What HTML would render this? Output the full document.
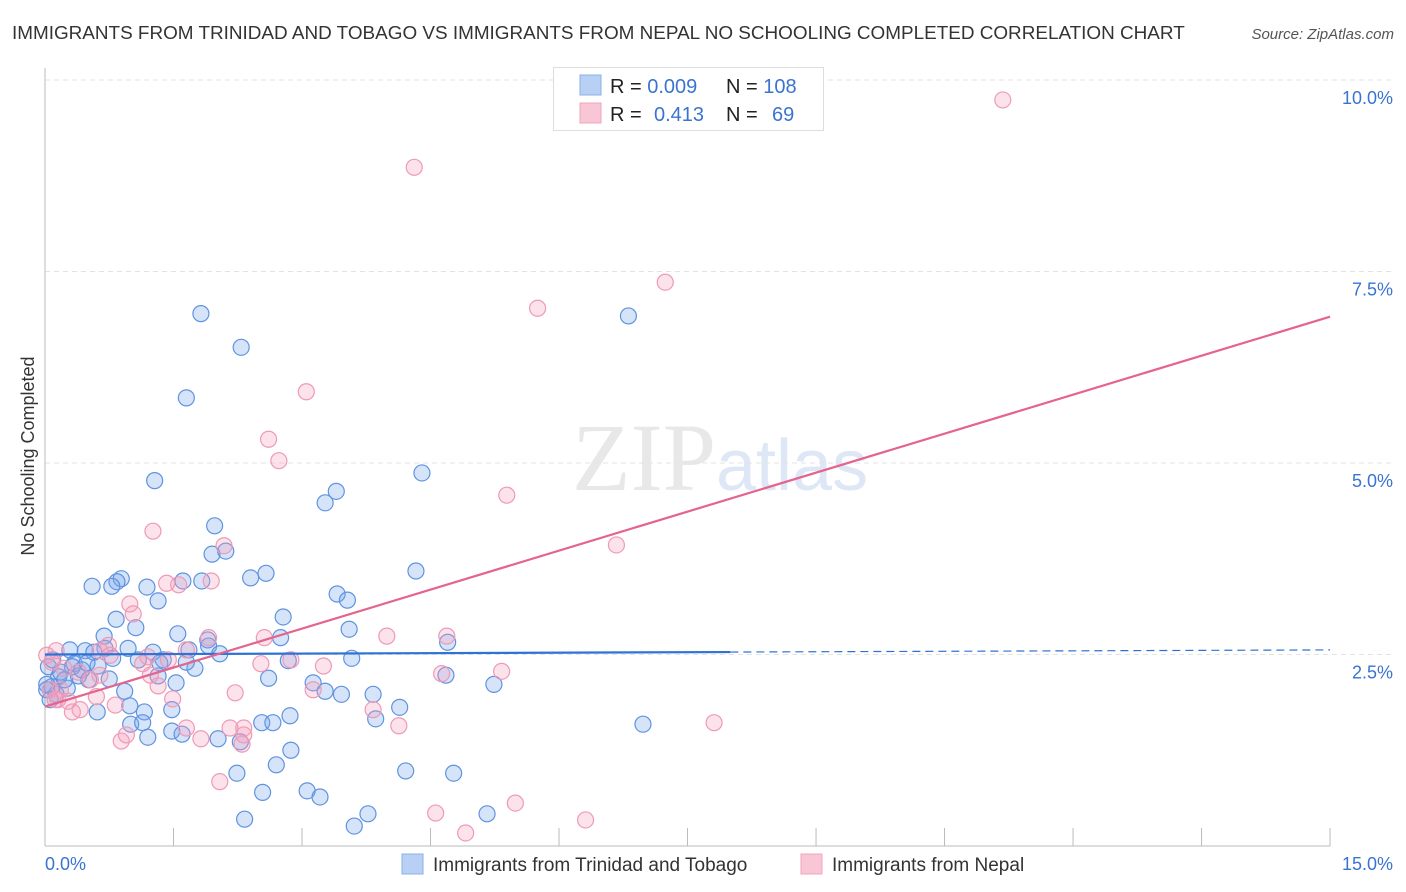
<!DOCTYPE html>
<html><head><meta charset="utf-8"><style>
body{margin:0;background:#fff;font-family:"Liberation Sans",sans-serif;}
svg{display:block}
</style></head><body>
<svg id="chart" width="1406" height="892" xmlns="http://www.w3.org/2000/svg">
<text x="12" y="39" font-size="18.9" fill="#333">IMMIGRANTS FROM TRINIDAD AND TOBAGO VS IMMIGRANTS FROM NEPAL NO SCHOOLING COMPLETED CORRELATION CHART</text>
<text x="1394" y="39" font-size="15" fill="#555" font-style="italic" text-anchor="end">Source: ZipAtlas.com</text>
<text x="716" y="490" font-size="96" fill="#e8e8e8" text-anchor="end" font-family="Liberation Serif">ZIP</text>
<text x="716" y="490" font-size="72" fill="#dde7f5">atlas</text>
<g id="grid"></g><g id="axes"></g><g id="points"></g><g id="trends"></g>
<text transform="translate(34,456) rotate(-90)" font-size="18" fill="#333" text-anchor="middle">No Schooling Completed</text>
<g>
<rect x="553.5" y="67.5" width="270" height="63" fill="#fff" stroke="#ddd"/>
<rect x="580" y="75" width="21" height="20" fill="#b8d0f4" stroke="#8ab0e8"/>
<rect x="580" y="103" width="21" height="20" fill="#f9c6d6" stroke="#f0a4bd"/>
<text x="610" y="93" font-size="20" fill="#222">R = <tspan fill="#3a74d0">0.009</tspan></text>
<text x="726" y="93" font-size="20" fill="#222">N = <tspan fill="#3a74d0">108</tspan></text>
<text x="610" y="121" font-size="20" fill="#222">R = <tspan fill="#3a74d0" x="654">0.413</tspan></text>
<text x="726" y="121" font-size="20" fill="#222">N = <tspan fill="#3a74d0" x="772">69</tspan></text>
</g>
<g>
<rect x="402" y="854" width="21" height="20" fill="#b8d0f4" stroke="#8ab0e8"/>
<text x="433" y="871" font-size="19" fill="#333">Immigrants from Trinidad and Tobago</text>
<rect x="801" y="854" width="21" height="20" fill="#f9c6d6" stroke="#f0a4bd"/>
<text x="832" y="871" font-size="19" fill="#333">Immigrants from Nepal</text>
</g>
</svg>
<script>
const yTicks=[2.5,5.0,7.5,10.0];
const xTickVals=[1.5,3,4.5,6,7.5,9,10.5,12,13.5,15];
const blueX=[1.82,2.29,1.65,6.81,1.28,4.40,3.40,3.27,1.98,1.95,2.11,0.89,0.84,0.55,0.78,1.19,1.61,1.83,2.40,2.58,1.32,3.41,3.53,4.33,2.78,0.83,1.06,0.69,1.55,3.55,2.75,1.90,4.70,0.29,0.47,0.70,0.97,1.26,1.68,1.91,2.04,3.58,2.84,1.09,1.38,1.75,0.34,0.62,0.16,0.39,0.51,0.75,1.32,1.53,2.61,3.13,3.27,3.46,3.83,4.68,5.24,0.93,0.08,0.26,0.13,0.99,1.16,1.48,0.61,2.86,2.53,4.14,3.86,6.98,1.00,1.14,2.66,1.20,1.48,1.60,2.02,2.28,2.87,2.24,2.70,4.21,4.77,2.54,3.06,3.21,2.33,3.61,3.77,5.16,0.02,0.04,0.09,0.18,0.32,0.02,0.43,0.57,0.79,0.06,0.23,0.49,1.34,1.65];
const blueY=[6.95,6.51,5.85,6.92,4.77,4.87,4.63,4.48,4.18,3.81,3.85,3.49,3.45,3.39,3.39,3.38,3.46,3.46,3.50,3.56,3.20,3.29,3.21,3.59,2.99,2.96,2.85,2.74,2.77,2.83,2.72,2.69,2.66,2.56,2.55,2.58,2.58,2.53,2.56,2.61,2.51,2.45,2.42,2.43,2.43,2.32,2.38,2.35,2.21,2.22,2.17,2.18,2.22,2.13,2.19,2.13,2.02,1.98,1.98,2.23,2.11,2.02,2.08,2.06,1.98,1.83,1.75,1.78,1.75,1.70,1.61,1.81,1.66,1.59,1.59,1.61,1.61,1.42,1.50,1.46,1.40,1.36,1.25,0.95,1.06,0.98,0.95,0.70,0.72,0.64,0.35,0.26,0.42,0.42,2.11,2.34,2.43,2.27,2.34,2.04,2.30,2.53,2.45,1.91,2.17,2.39,2.39,2.40];
const pinkX=[11.18,4.31,7.24,5.75,3.05,2.61,2.73,5.39,6.67,1.26,2.09,1.94,1.56,1.42,0.99,1.03,3.99,4.69,1.91,2.56,0.74,2.87,3.25,2.52,1.44,1.14,1.20,0.64,0.13,0.08,0.22,0.39,0.64,4.63,5.33,1.65,1.32,3.13,2.22,0.15,0.27,0.60,0.82,0.41,0.32,1.49,1.65,2.16,2.32,3.83,4.13,7.81,0.89,0.95,1.82,2.30,2.32,2.04,5.49,4.56,4.91,6.31,0.02,0.06,0.18,0.12,0.76,0.53,1.23];
const pinkY=[9.74,8.86,7.36,7.02,5.93,5.31,5.03,4.58,3.93,4.11,3.92,3.46,3.41,3.43,3.16,3.03,2.74,2.74,2.72,2.72,2.62,2.43,2.35,2.38,2.43,2.38,2.47,2.55,2.55,2.40,2.32,2.27,2.23,2.25,2.28,2.56,2.09,2.04,2.00,1.91,1.89,1.95,1.84,1.78,1.75,1.92,1.54,1.54,1.54,1.78,1.57,1.61,1.37,1.45,1.40,1.33,1.45,0.84,0.56,0.43,0.17,0.34,2.49,2.04,2.04,1.91,2.49,2.17,2.23];
const blueTrend=[2.50,2.56];   // value at x=0, x=15
const blueSolidEnd=8.0;
const pinkTrend=[1.82,6.91];
const NS='http://www.w3.org/2000/svg';
const X=v=>45+v*85.67, Y=v=>846-v*76.6;
function mk(tag,attrs,parent){const e=document.createElementNS(NS,tag);for(const k in attrs)e.setAttribute(k,attrs[k]);parent.appendChild(e);return e;}
const grid=document.getElementById('grid'),axes=document.getElementById('axes'),pts=document.getElementById('points'),tr=document.getElementById('trends');
yTicks.forEach(t=>{
 const l=mk('line',{x1:45,x2:1394,y1:Y(t),y2:Y(t),stroke:'#e3e3e3','stroke-dasharray':'5,4'},grid);
 
 
 const tx=mk('text',{x:1393,y:Y(t)+24,'font-size':18,fill:'#3a74d0','text-anchor':'end'},axes);
 tx.textContent=t.toFixed(1)+'%';
 
 
});
let ax=mk('line',{x1:45,x2:1330,y1:846,y2:846,stroke:'#bbb'},axes);


let ay=mk('line',{x1:45,x2:45,y1:68,y2:846,stroke:'#bbb'},axes);


xTickVals.forEach(t=>{
 const l=mk('line',{x1:X(t),x2:X(t),y1:828,y2:846,stroke:'#bbb'},axes);
 
 
});
let xl0=mk('text',{x:45,y:870,'font-size':18,fill:'#3a74d0'},axes);xl0.textContent='0.0%';


let xl1=mk('text',{x:1393,y:870,'font-size':18,fill:'#3a74d0','text-anchor':'end'},axes);xl1.textContent='15.0%';


blueX.forEach((v,i)=>{
 const c=mk('circle',{cx:X(v),cy:Y(blueY[i]),r:8,fill:'rgba(120,165,235,0.3)',stroke:'#5f93e0','stroke-width':1.2},pts);
 
 
});
pinkX.forEach((v,i)=>{
 const c=mk('circle',{cx:X(v),cy:Y(pinkY[i]),r:8,fill:'rgba(245,160,190,0.3)',stroke:'#ee9ab6','stroke-width':1.2},pts);
 
 
});
const bAt=x=>blueTrend[0]+(blueTrend[1]-blueTrend[0])*x/15;
let b1=mk('line',{x1:X(0),y1:Y(bAt(0)),x2:X(blueSolidEnd),y2:Y(bAt(blueSolidEnd)),stroke:'#2f72d6','stroke-width':2.2},tr);


let b2=mk('line',{x1:X(blueSolidEnd),y1:Y(bAt(blueSolidEnd)),x2:X(15),y2:Y(bAt(15)),stroke:'#2f72d6','stroke-width':1.2,'stroke-dasharray':'8,5'},tr);


let p1=mk('line',{x1:X(0),y1:Y(pinkTrend[0]),x2:X(15),y2:Y(pinkTrend[1]),stroke:'#e4648e','stroke-width':2.2},tr);


</script>
</body></html>
